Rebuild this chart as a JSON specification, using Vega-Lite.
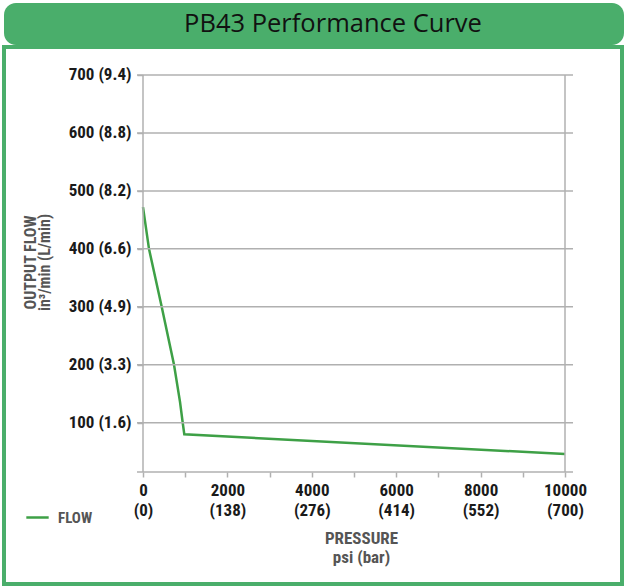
{
  "$schema": "https://vega.github.io/schema/vega-lite/v6.json",
  "background": "white",
  "padding": {"left": 2, "top": 3, "right": 0, "bottom": 0},
  "spacing": 0,
  "config": {
    "view": {"stroke": null},
    "font": "Roboto Condensed, DejaVu Sans Condensed, Roboto, sans-serif",
    "axis": {
      "labelFont": "Roboto Condensed, DejaVu Sans Condensed, Roboto, sans-serif",
      "titleFont": "Roboto Condensed, DejaVu Sans Condensed, Roboto, sans-serif",
      "labelFontWeight": "bold",
      "labelColor": "#1a1a1a",
      "titleFontWeight": "bold",
      "titleColor": "#555555",
      "tickColor": "#b0b0b0",
      "tickWidth": 1.5,
      "labelOverlap": false,
      "labelFlush": false
    }
  },
  "vconcat": [
    {
      "width": 620,
      "height": 42,
      "view": {"fill": "#4aae6b", "stroke": null, "cornerRadius": 12},
      "data": {"values": [{"title": "PB43 Performance Curve"}]},
      "mark": {"type": "text", "font": "Open Sans", "fontSize": 25.5, "color": "#111111", "dx": 19, "dy": 0},
      "encoding": {"text": {"field": "title", "type": "nominal"}}
    },
    {
      "width": 618,
      "height": 537,
      "view": {"fill": "white", "stroke": "#4aae6b", "strokeWidth": 4},
      "layer": [
        {
          "data": {
            "values": [
              {"pressure": 0, "flow": 472, "series": "FLOW"},
              {"pressure": 142, "flow": 400, "series": "FLOW"},
              {"pressure": 443, "flow": 300, "series": "FLOW"},
              {"pressure": 735, "flow": 200, "series": "FLOW"},
              {"pressure": 877, "flow": 136, "series": "FLOW"},
              {"pressure": 941, "flow": 100, "series": "FLOW"},
              {"pressure": 979, "flow": 80, "series": "FLOW"},
              {"pressure": 10000, "flow": 46, "series": "FLOW"}
            ]
          },
          "mark": {"type": "line", "strokeWidth": 2.5},
          "encoding": {
            "x": {
              "field": "pressure",
              "type": "quantitative",
              "scale": {"domain": [-3293.84, 11350.71], "nice": false, "zero": false},
              "axis": {
                "orient": "bottom",
                "offset": -112,
                "domain": false,
                "grid": false,
                "values": [0, 1000, 2000, 3000, 4000, 5000, 6000, 7000, 8000, 9000, 10000],
                "labelExpr": "datum.value==0?['0','(0)']:datum.value==2000?['2000','(138)']:datum.value==4000?['4000','(276)']:datum.value==6000?['6000','(414)']:datum.value==8000?['8000','(552)']:datum.value==10000?['10000','(700)']:''",
                "tickSize": 5,
                "labelFontSize": 17,
                "labelLineHeight": 20,
                "labelPadding": 5,
                "labelBaseline": "top",
                "title": ["PRESSURE", "psi (bar)"],
                "titleFontSize": 17,
                "titleLineHeight": 19,
                "titlePadding": 12,
                "titleX": 357
              }
            },
            "y": {
              "field": "flow",
              "type": "quantitative",
              "scale": {"domain": [-178.25, 748.31], "nice": false, "zero": false},
              "axis": {
                "orient": "left",
                "offset": -139,
                "domain": false,
                "grid": false,
                "values": [100, 200, 300, 400, 500, 600, 700],
                "labelExpr": "datum.value==700?'700 (9.4)':datum.value==600?'600 (8.8)':datum.value==500?'500 (8.2)':datum.value==400?'400 (6.6)':datum.value==300?'300 (4.9)':datum.value==200?'200 (3.3)':datum.value==100?'100 (1.6)':''",
                "tickSize": 6,
                "labelFontSize": 17,
                "labelPadding": 6,
                "title": ["OUTPUT FLOW", "in³/min  (L/min)"],
                "titleFontSize": 16,
                "titleLineHeight": 14,
                "titlePadding": 16,
                "titleY": 215
              }
            },
            "color": {
              "field": "series",
              "type": "nominal",
              "scale": {"range": ["#3ea046"]},
              "legend": {
                "orient": "none",
                "legendX": 21,
                "legendY": 502,
                "title": null,
                "symbolType": "stroke",
                "symbolSize": 500,
                "symbolStrokeWidth": 2.5,
                "labelFont": "Roboto Condensed, DejaVu Sans Condensed, Roboto, sans-serif",
                "labelFontSize": 15,
                "labelFontWeight": "bold",
                "labelColor": "#555555",
                "labelOffset": 8
              }
            }
          }
        },
        {
          "data": {"values": [{"flow": 15}, {"flow": 100}, {"flow": 200}, {"flow": 300}, {"flow": 400}, {"flow": 500}, {"flow": 600}, {"flow": 700}]},
          "mark": {"type": "rule", "color": "#b0b0b0", "strokeWidth": 1.5},
          "encoding": {
            "y": {"field": "flow", "type": "quantitative", "scale": {"domain": [-178.25, 748.31], "nice": false, "zero": false}},
            "x": {"datum": -142, "type": "quantitative", "scale": {"domain": [-3293.84, 11350.71], "nice": false, "zero": false}},
            "x2": {"datum": 10190}
          }
        },
        {
          "data": {"values": [{"pressure": 0}, {"pressure": 10000}]},
          "mark": {"type": "rule", "color": "#b0b0b0", "strokeWidth": 1.5},
          "encoding": {
            "x": {"field": "pressure", "type": "quantitative", "scale": {"domain": [-3293.84, 11350.71], "nice": false, "zero": false}},
            "y": {"datum": 15, "type": "quantitative", "scale": {"domain": [-178.25, 748.31], "nice": false, "zero": false}},
            "y2": {"datum": 700}
          }
        }
      ]
    }
  ]
}
